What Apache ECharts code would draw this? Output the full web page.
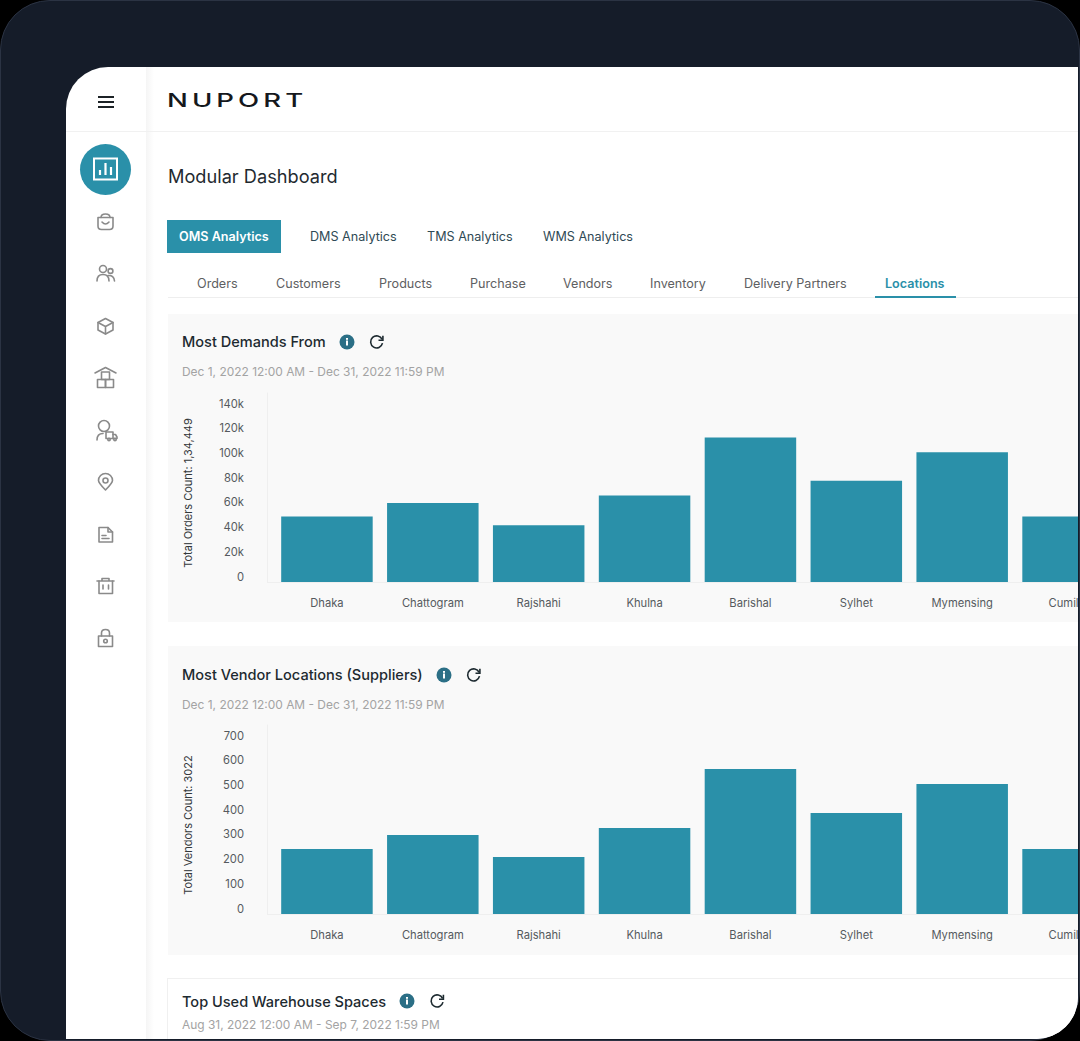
<!DOCTYPE html>
<html>
<head>
<meta charset="utf-8">
<title>Modular Dashboard</title>
<script src="https://cdn.jsdelivr.net/npm/echarts@6/dist/echarts.min.js"></script>
<style>
html,body{margin:0;padding:0;width:1080px;height:1041px;overflow:hidden;background:#000;font-family:Inter,"Noto Sans",sans-serif;}
.abs,.t{position:absolute;}
.t{white-space:nowrap;line-height:1;transform:translateY(-50%);}
#frame{left:0;top:0;width:1078px;height:1039px;background:#151c29;border:1px solid #2b3343;border-radius:50px;}
#panel{left:66px;top:67px;width:1012px;height:972px;background:#fff;border-radius:42px 0 42px 0;overflow:hidden;}
#chart{position:absolute;left:0;top:0;width:1078px;height:1041px;}
.card{position:absolute;left:168px;width:910px;background:#f9f9f9;}
svg{position:absolute;overflow:visible;}
.i{fill:none;stroke:#8a8a8a;stroke-width:1.6;stroke-linecap:round;stroke-linejoin:round;}
.tab2{font-size:12.6px;color:#5e6062;top:283.5px;}
.tab1{font-size:12.6px;color:#2f4a55;top:237px;}
.ct{font-size:14.55px;font-weight:500;color:#1d2a30;}
.cd{font-size:11.95px;color:#a3a3a3;}
</style>
</head>
<body>
<div id="frame" class="abs"></div>
<div id="panel" class="abs"></div>
<div class="abs" style="left:146px;top:67px;width:8px;height:972px;background:linear-gradient(90deg,#f5f5f5,#fff)"></div>
<div class="abs" style="left:66px;top:131px;width:1012px;height:1px;background:#f1f1f1"></div>

<div class="t" style="left:167px;top:100px;font-size:19px;font-weight:500;letter-spacing:2.8px;color:#15181c;transform-origin:left center;transform:translateY(-50%) scaleX(1.45)">NUPORT</div>
<div class="t" style="left:168px;top:176px;font-size:18.2px;color:#1f2a30">Modular Dashboard</div>

<div class="abs" style="left:167px;top:220px;width:114px;height:33px;background:#2a90a9"></div>
<div class="t" style="left:179px;top:237px;font-size:12.6px;font-weight:600;color:#fff">OMS Analytics</div>
<div class="t tab1" style="left:310px">DMS Analytics</div>
<div class="t tab1" style="left:427px">TMS Analytics</div>
<div class="t tab1" style="left:543px">WMS Analytics</div>

<div class="t tab2" style="left:197px">Orders</div>
<div class="t tab2" style="left:276px">Customers</div>
<div class="t tab2" style="left:379px">Products</div>
<div class="t tab2" style="left:470px">Purchase</div>
<div class="t tab2" style="left:563px">Vendors</div>
<div class="t tab2" style="left:650px">Inventory</div>
<div class="t tab2" style="left:744px">Delivery Partners</div>
<div class="t tab2" style="left:885px;color:#2a90a9;font-weight:600">Locations</div>
<div class="abs" style="left:168px;top:297px;width:910px;height:1px;background:#eeeeee"></div>
<div class="abs" style="left:875px;top:296px;width:81px;height:2px;background:#2a90a9"></div>

<div class="card" style="top:314px;height:308px"></div>
<div class="card" style="top:646px;height:309px"></div>
<div class="abs" style="left:167px;top:978px;width:911px;height:61px;background:#fff;border-top:1px solid #f0f0f0;border-left:1px solid #f0f0f0;box-sizing:border-box;border-bottom-right-radius:42px"></div>

<div class="t ct" style="left:182px;top:342px">Most Demands From</div>
<div class="t cd" style="left:182px;top:371.500px">Dec 1, 2022 12:00 AM - Dec 31, 2022 11:59 PM</div>
<div class="t ct" style="left:182px;top:675px">Most Vendor Locations (Suppliers)</div>
<div class="t cd" style="left:182px;top:704.500px">Dec 1, 2022 12:00 AM - Dec 31, 2022 11:59 PM</div>
<div class="t ct" style="left:182px;top:1002px">Top Used Warehouse Spaces</div>
<div class="t cd" style="left:182px;top:1024.500px">Aug 31, 2022 12:00 AM - Sep 7, 2022 1:59 PM</div>

<svg width="1080" height="1041" style="left:0;top:0">
  <defs>
    <g id="info"><circle r="7.5" fill="#2b6f86"/><rect x="-1" y="-1.5" width="2" height="5" fill="#fff"/><rect x="-1" y="-4" width="2" height="1.8" fill="#fff"/></g>
    <g id="ref"><path d="M5.6 -2.6A6 6 0 1 0 6 1.2" fill="none" stroke="#1d2a30" stroke-width="1.6"/><path d="M6.4 -6.2V-1.8H2" fill="none" stroke="#1d2a30" stroke-width="1.6"/></g>
  </defs>
  <use href="#info" x="347" y="342"/><use href="#ref" x="376.500" y="342"/>
  <use href="#info" x="444" y="675"/><use href="#ref" x="473.500" y="675"/>
  <use href="#info" x="407" y="1001"/><use href="#ref" x="437" y="1001"/>

  <path d="M98 97H114M98 102H114M98 107H114" stroke="#1c2226" stroke-width="1.8" fill="none"/>
  <circle cx="105.500" cy="169.500" r="25.500" fill="#2a90a9"/>
  <rect x="94" y="158.500" width="23" height="21" fill="none" stroke="#fff" stroke-width="2"/>
  <path d="M100 175V170M105.500 175V163M111 175V167" stroke="#fff" stroke-width="2.200" fill="none"/>

  <g class="i">
    <path d="M98 217.500H113V226Q113 229.500 109.500 229.500H101.500Q98 229.500 98 226Z"/><path d="M101 217.500Q101 214 105.500 214T110 217.500"/><path d="M102 222Q105.500 226 109 222"/>
    <circle cx="103" cy="269" r="3.500"/><circle cx="110.500" cy="271" r="2.400"/><path d="M97 281Q97 274.500 103 274.500T109 281"/><path d="M108 275.500Q114 275 114.500 281"/>
    <path d="M105.500 318.500L113 322.500V330L105.500 334L98 330V322.500Z"/><path d="M98 322.500L105.500 326.500L113 322.500M105.500 326.500V334"/>
    <path d="M95 373L105.500 367.500L116 373"/><rect x="101.500" y="372" width="8" height="7.500"/><rect x="97.500" y="379.500" width="8" height="8"/><rect x="105.500" y="379.500" width="8" height="8"/>
    <circle cx="104" cy="426" r="5.500"/><path d="M97 440Q97 433.500 103 433.500"/><rect x="106" y="432" width="7" height="6.500"/><path d="M113 434.500H115.500L117 437V438.500H113"/><circle cx="109" cy="439.500" r="1.200"/><circle cx="115" cy="439.500" r="1.200"/>
    <path d="M105.500 490Q98.500 483 98.500 480.500A7 7 0 0 1 112.500 480.500Q112.500 483 105.500 490Z"/><circle cx="105.500" cy="480.500" r="2.500"/>
    <path d="M99 527.500H108L112.500 532V542H99Z"/><path d="M108 527.500V532H112.500M102 535.500H106M102 538.500H109"/>
    <path d="M97 581H114M102 581V578.500H109V581"/><path d="M99 581V593.500H112.500V581"/><path d="M103 585V589M108.500 585V589"/>
    <rect x="98.500" y="636" width="14" height="10.500"/><path d="M101.500 636V633Q101.500 629.500 105.500 629.500T109.500 633V636"/><circle cx="105.500" cy="641" r="1.800"/>
  </g>
</svg>

<div id="chart"></div>

<script>
var categories = ["Dhaka","Chattogram","Rajshahi","Khulna","Barishal","Sylhet","Mymensing","Cumilla"];
var demandValues = [53000,64000,46000,70000,117000,82000,105000,53000];
var vendorValues = [263,320,231,348,587,409,526,263];
var demandName = "Total Orders Count: 1,34,449";
var vendorName = "Total Vendors Count: 3022";
var demandMax = 153000, demandStep = 20000;
var vendorMax = 765, vendorStep = 100;
var barColor = "#2a90a9";
var kFormat = function(v){ return v === 0 ? "0" : (v/1000) + "k"; };

function xAxis(idx){
  return {type:"category",gridIndex:idx,data:categories,
    axisLine:{show:false},axisTick:{show:false},
    axisLabel:{color:"#555a5e",fontSize:11.200,fontFamily:"Inter",margin:15,interval:0}};
}
function yAxis(idx,name,max,step,fmt){
  return {type:"value",gridIndex:idx,min:0,max:max,interval:step,offset:7,
    name:name,nameLocation:"middle",nameGap:74,
    nameTextStyle:{color:"#33383b",fontSize:11,fontFamily:"Inter",padding:[0,11,0,0]},
    axisLine:{show:true,lineStyle:{color:"#efefef"}},axisTick:{show:false},splitLine:{show:false},
    axisLabel:{color:"#555a5e",fontSize:11.200,fontFamily:"Inter",margin:23,showMaxLabel:false,verticalAlign:"bottom",formatter:fmt}};
}
var chart = echarts.init(document.getElementById("chart"),null,{renderer:"svg"});
chart.setOption({
  animation:false,
  backgroundColor:"transparent",
  grid:[{left:274,width:847,top:393,height:189,outerBoundsMode:"none"},{left:274,width:847,top:725,height:189,outerBoundsMode:"none"}],
  xAxis:[xAxis(0),xAxis(1)],
  yAxis:[yAxis(0,demandName,demandMax,demandStep,kFormat),yAxis(1,vendorName,vendorMax,vendorStep)],
  series:[
    {type:"bar",xAxisIndex:0,yAxisIndex:0,data:demandValues,barWidth:91.500,itemStyle:{color:barColor}},
    {type:"bar",xAxisIndex:1,yAxisIndex:1,data:vendorValues,barWidth:91.500,itemStyle:{color:barColor}}
  ]
});
</script>
<div class="abs" style="left:267px;top:582px;width:811px;height:1px;background:#efefef"></div>
<div class="abs" style="left:267px;top:914px;width:811px;height:1px;background:#efefef"></div>
</body>
</html>
